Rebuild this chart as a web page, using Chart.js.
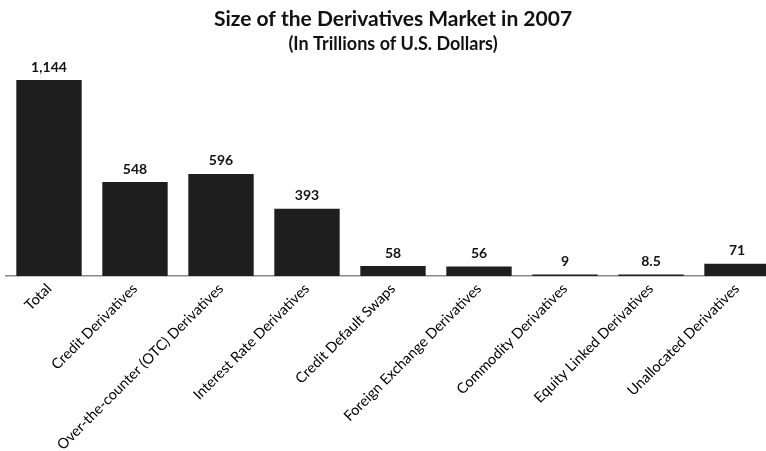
<!DOCTYPE html>
<html>
<head>
<meta charset="utf-8">
<script src="https://cdn.jsdelivr.net/npm/chart.js@4"></script>
<style>
  html, body { margin: 0; padding: 0; background: #fff; overflow: hidden; }
  #wrap { width: 780px; height: 451px; }
</style>
</head>
<body>
<div id="wrap"><canvas id="chart" width="780" height="451"></canvas></div>
<script>
// categories and values (trillions of US dollars)
const categories = [
  "Total",
  "Credit Derivatives",
  "Over-the-counter (OTC) Derivatives",
  "Interest Rate Derivatives",
  "Credit Default Swaps",
  "Foreign Exchange Derivatives",
  "Commodity Derivatives",
  "Equity Linked Derivatives",
  "Unallocated Derivatives"
];
const values = [1144, 548, 596, 393, 58, 56, 9, 8.5, 71];

const FONT = "Lato, 'Open Sans', sans-serif";

// draw value labels above bars
const valueLabels = {
  id: "valueLabels",
  afterDatasetsDraw(chart) {
    const ctx = chart.ctx;
    const meta = chart.getDatasetMeta(0);
    ctx.save();
    ctx.font = "bold 14px " + FONT;
    ctx.fillStyle = "#111";
    ctx.textAlign = "center";
    ctx.textBaseline = "bottom";
    meta.data.forEach((bar, i) => {
      const v = chart.data.datasets[0].data[i];
      ctx.fillText(v.toLocaleString("en-US"), bar.x, bar.y - 6);
    });
    ctx.restore();
  }
};

new Chart(document.getElementById("chart"), {
  type: "bar",
  data: {
    labels: categories,
    datasets: [{
      data: values,
      backgroundColor: "#1e1e1e",
      barPercentage: 0.76,
      categoryPercentage: 1
    }]
  },
  options: {
    responsive: false,
    animation: false,
    layout: { padding: { left: 6, right: 0, top: 0, bottom: 0 } },
    plugins: {
      legend: { display: false },
      tooltip: { enabled: false },
      title: {
        display: true,
        text: "Size of the Derivatives Market in 2007",
        color: "#111",
        font: { family: FONT, size: 21, weight: "bold" },
        padding: { top: 7, bottom: 1 }
      },
      subtitle: {
        display: true,
        text: "(In Trillions of U.S. Dollars)",
        color: "#111",
        font: { family: FONT, size: 18, weight: "bold" },
        padding: { top: 0, bottom: 6 }
      }
    },
    scales: {
      x: {
        grid: { display: false, drawTicks: false },
        border: { display: true, color: "#8a8a8a", width: 1.5 },
        ticks: {
          color: "#000",
          font: { family: FONT, size: 14.5 },
          minRotation: 45,
          maxRotation: 45,
          autoSkip: false,
          padding: 4
        },
        afterFit(scale) { scale.height = 175; }
      },
      y: {
        display: false,
        min: 0,
        max: 1256
      }
    }
  },
  plugins: [valueLabels]
});
</script>
</body>
</html>
